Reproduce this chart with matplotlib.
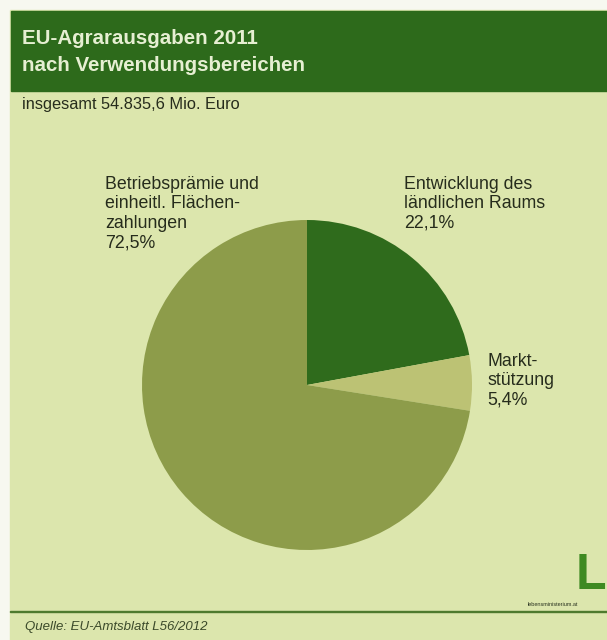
import matplotlib.pyplot as plt
from matplotlib.patches import Rectangle

plt.rcParams['font.family'] = ['Liberation Sans', 'DejaVu Sans']

# data
labels = ['Entwicklung des\nländlichen Raums', 'Markt-\nstützung',
          'Betriebsprämie und\neinheitl. Flächen-\nzahlungen']
shares = [22.1, 5.4, 72.5]
colors = ['#2f6b1c', '#bcc274', '#8d9c4a']
title = 'EU-Agrarausgaben 2011\nnach Verwendungsbereichen'
subtitle = 'insgesamt 54.835,6 Mio. Euro'
source = 'Quelle: EU-Amtsblatt L56/2012'

W, H = 607, 640
fig = plt.figure(figsize=(W / 100, H / 100), dpi=100, facecolor='#f7f8f0')

def px(x, y):
    return x / W, 1 - y / H

# background and header
fig.patches.append(Rectangle(px(10, H), (W - 10) / W, (H - 10) / H,
                             transform=fig.transFigure, color='#dce6ad', zorder=-2))
fig.patches.append(Rectangle(px(11, 91), (W - 11) / W, 80 / H,
                             transform=fig.transFigure, color='#2d6a1b', zorder=-1))
fig.patches.append(Rectangle(px(10, 612), (W - 10) / W, 1.5 / H,
                             transform=fig.transFigure, color='#4e7a2e', zorder=-1))

fig.text(*px(22, 52), title, fontsize=14.8, fontweight='bold', color='#e6efd2',
         va='center', ha='left', linespacing=1.55)
fig.text(*px(22, 104), subtitle, fontsize=11.8, color='#262c1c', va='center')
fig.text(*px(25, 627), source, fontsize=9.5, style='italic', color='#3b4a2a',
         va='center')

# pie
cx, cy, r = 307, 385, 165
ax = fig.add_axes([(cx - r) / W, (H - cy - r) / H, 2 * r / W, 2 * r / H])
ax.set_zorder(2)
ax.pie(shares, colors=colors, startangle=90, counterclock=False,
       wedgeprops=dict(linewidth=0))
ax.set_xlim(-1, 1)
ax.set_ylim(-1, 1)
ax.set_aspect('equal')
ax.axis('off')

# labels
lab_pos = [(404, 185), (487, 362), (105, 185)]
for lab, v, (x, y) in zip(labels, shares, lab_pos):
    txt = lab + '\n' + f'{v:.1f}'.replace('.', ',') + '%'
    fig.text(*px(x, y - 9), txt, fontsize=12.8, color='#262c1c', va='top',
             ha='left', linespacing=1.18)

# logo
fig.text(*px(591, 576), 'L', fontsize=36, fontweight='bold', color='#3f8a22',
         ha='center', va='center')
fig.text(*px(553, 604), 'lebensministerium.at', fontsize=4, color='#2a3320',
         ha='center', va='center')

fig.savefig('out.png', dpi=100, facecolor=fig.get_facecolor())
